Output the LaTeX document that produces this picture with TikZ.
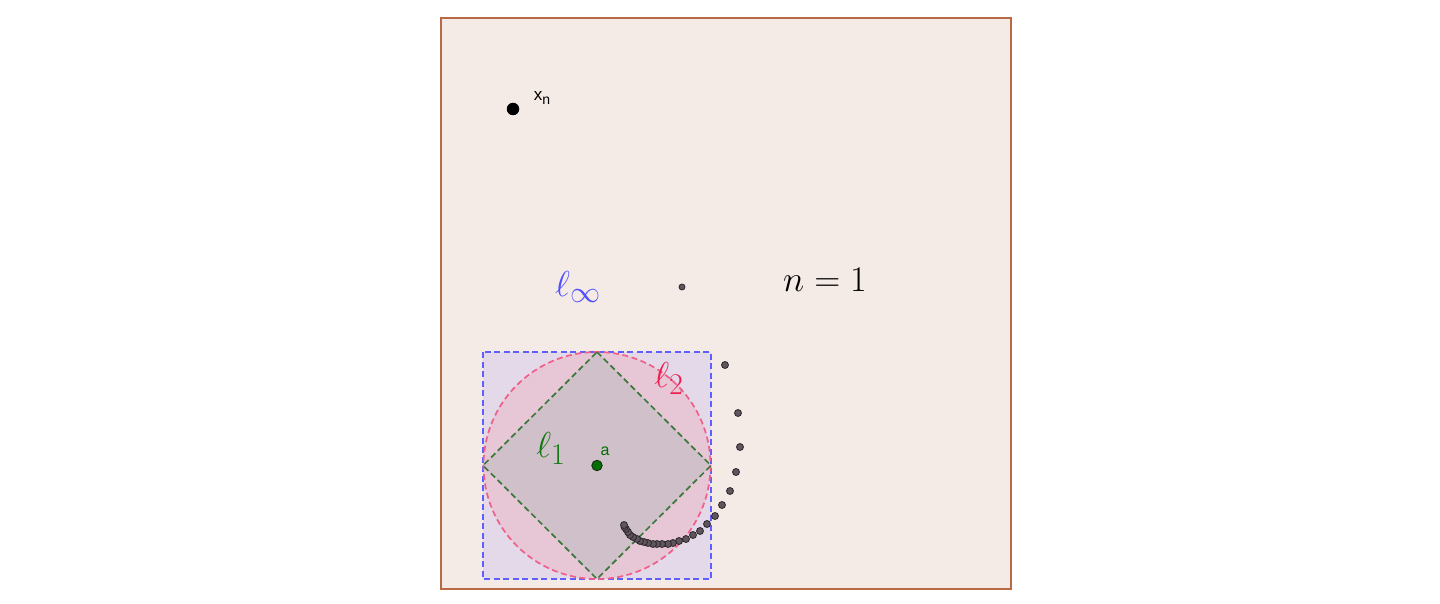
\documentclass[tikz,border=0pt]{standalone}
\usepackage{fontspec}
\newfontfamily\ggbsans{Liberation Sans}
\begin{document}
\begin{tikzpicture}[x=1pt,y=-1pt,
  seqdot/.style={circle,inner sep=0pt,minimum size=7pt,fill={rgb,255:red,95;green,85;blue,92},draw={rgb,255:red,45;green,40;blue,45},line width=0.8pt},
  bigtext/.style={font=\fontsize{24.88}{28}\selectfont,inner sep=0pt,scale=1.45},
  dashline/.style={dash pattern=on 6pt off 3.5pt,line width=1.7pt}]
\definecolor{bgc}{RGB}{244,235,231}
\definecolor{framec}{RGB}{184,106,68}
\definecolor{sqfill}{RGB}{227,217,232}
\definecolor{cifill}{RGB}{231,199,214}
\definecolor{difill}{RGB}{208,192,201}
\definecolor{blued}{RGB}{95,95,255}
\definecolor{pinkd}{RGB}{240,95,140}
\definecolor{greend}{RGB}{60,120,60}
\definecolor{linf}{RGB}{80,80,255}
\definecolor{ltwo}{RGB}{240,30,80}
\definecolor{lone}{RGB}{20,120,20}
\useasboundingbox (0,0) rectangle (1440,604);
\fill[white] (0,0) rectangle (1440,604);
% frame
\draw[framec,fill=bgc,line width=2pt] (441,18) rectangle (1011,589);
% balls
\fill[sqfill] (483,352) rectangle (711,579);
\fill[cifill] (597,465.5) circle (113.5);
\fill[difill] (597,352) -- (711,465.5) -- (597,579) -- (483,465.5) -- cycle;
\draw[blued,dashline] (483,352) rectangle (711,579);
\draw[pinkd,dashline] (597,465.5) circle (113.5);
\draw[greend,dashline] (597,352) -- (711,465.5) -- (597,579) -- (483,465.5) -- cycle;
% labels
\node[bigtext,text=linf] (Linf) at (578,287) {$\ell_\infty$};
\node[bigtext,text=ltwo] (Ltwo) at (669,378) {$\ell_2$};
\node[bigtext,text=lone] (Lone) at (551,448) {$\ell_1$};
\node[bigtext] (N) at (825,280) {$n=1$};
% points
\node[circle,inner sep=0pt,minimum size=12.5pt,fill=black] (xn) at (513,109) {};
\node[inner sep=0pt,font=\ggbsans\fontsize{17}{18}\selectfont] (xnl) at (542,98) {x\raisebox{-4.5pt}{\fontsize{14}{15}\selectfont n}};
\node[circle,inner sep=0pt,minimum size=10.5pt,fill={rgb,255:red,0;green,110;blue,0},draw={rgb,255:red,20;green,40;blue,20},line width=0.8pt] (a) at (597,465.5) {};
\node[inner sep=0pt,font=\ggbsans\fontsize{16}{17}\selectfont,text={rgb,255:red,0;green,110;blue,0}] (al) at (605,451) {a};
\node[seqdot,minimum size=6pt] (d0) at (682,287) {};
\foreach \px/\py [count=\i] in {725/365,738/413,740/447,736/472,730/491,722/505,715/516,707/524,700/531,693/535,686/539,679/541,673/543,668/544,662/544,657/544,653/544,648/543,644/542,640/541,637/539,633/537,630/535,628/532,626/529,624.5/527,624/525}
  \node[seqdot] (d\i) at (\px,\py) {};
\end{tikzpicture}
\end{document}
